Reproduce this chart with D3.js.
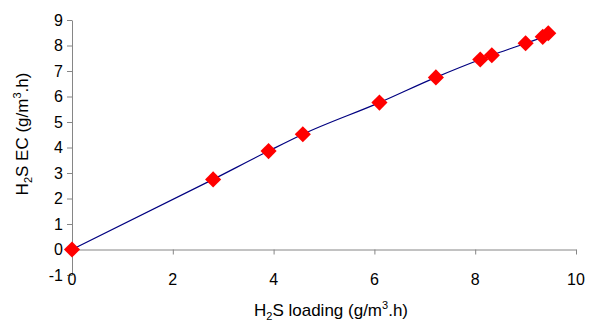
<!DOCTYPE html>
<html>
<head>
<meta charset="utf-8">
<script src="https://cdn.jsdelivr.net/npm/d3@7"></script>
<style>
  body { margin: 0; background: #fff; }
  svg { font-family: "Liberation Sans", Arial, sans-serif; }
</style>
</head>
<body>
<svg id="chart"></svg>
<script>
// data
const loading = [0, 2.80, 3.90, 4.58, 6.10, 7.22, 8.10, 8.33, 9.00, 9.34, 9.45];
const ec = [0, 2.75, 3.86, 4.52, 5.76, 6.75, 7.45, 7.62, 8.09, 8.34, 8.48];
const xTicks = [0, 2, 4, 6, 8, 10];
const yTicks = [-1, 0, 1, 2, 3, 4, 5, 6, 7, 8, 9];

const width = 589;
const height = 322;
const axisColor = '#868686';
const lineColor = '#000080';
const markerColor = '#ff0000';

const svg = d3.select('#chart')
    .attr('width', width)
    .attr('height', height);

// scales
const xScale = d3.scaleLinear()
    .domain([0, 10])
    .range([72, 576]);

const yScale = d3.scaleLinear()
    .domain([-1, 9])
    .range([275, 20]);

// y axis
const yAxis = svg.append('g')
    .attr('transform', `translate(${xScale(0)}, 0)`)
    .call(d3.axisLeft(yScale).tickValues(yTicks).tickSize(5).tickSizeOuter(0).tickPadding(4)
        .tickFormat(d => String(d)))
    .attr('font-size', '16px')
    .attr('font-family', null);
yAxis.select('.domain').attr('stroke', axisColor);
yAxis.selectAll('line').attr('stroke', axisColor);
yAxis.selectAll('text').attr('fill', '#000');

// x axis, crossing at y = 0, labels at the bottom of the plot
const xAxis = svg.append('g')
    .attr('transform', `translate(0, ${yScale(0)})`)
    .call(d3.axisBottom(xScale).tickValues(xTicks).tickSize(5).tickSizeOuter(0).tickFormat(''));
xAxis.select('.domain').attr('stroke', axisColor);
xAxis.selectAll('line').attr('stroke', axisColor);

svg.append('g')
    .selectAll('text')
    .data(xTicks)
    .join('text')
    .attr('x', d => xScale(d))
    .attr('y', yScale(-1) + 10)
    .attr('text-anchor', 'middle')
    .attr('font-size', '16px')
    .text(d => d);

// line
const points = loading.map((x, i) => [x, ec[i]]);
const line = d3.line()
    .x(d => xScale(d[0]))
    .y(d => yScale(d[1]))
    .curve(d3.curveMonotoneX);

svg.append('path')
    .datum(points)
    .attr('d', line)
    .attr('fill', 'none')
    .attr('stroke', lineColor)
    .attr('stroke-width', 1.2);

// diamond markers
const diamond = d3.symbol().type(d3.symbolSquare).size(130);
svg.append('g')
    .selectAll('path')
    .data(points)
    .join('path')
    .attr('d', diamond)
    .attr('transform', d => `translate(${xScale(d[0])}, ${yScale(d[1])}) rotate(45)`)
    .attr('fill', markerColor);

// axis titles
svg.append('text')
    .attr('x', 331)
    .attr('y', 316)
    .attr('text-anchor', 'middle')
    .attr('font-size', '17px')
    .html('H<tspan font-size="11px" dy="4">2</tspan><tspan dy="-4">S loading (g/m</tspan><tspan font-size="11px" dy="-7">3</tspan><tspan dy="7">.h)</tspan>');

svg.append('text')
    .attr('transform', `translate(28, 134) rotate(-90)`)
    .attr('text-anchor', 'middle')
    .attr('font-size', '17px')
    .html('H<tspan font-size="11px" dy="4">2</tspan><tspan dy="-4">S EC (g/m</tspan><tspan font-size="11px" dy="-7">3</tspan><tspan dy="7">.h)</tspan>');
</script>
</body>
</html>
